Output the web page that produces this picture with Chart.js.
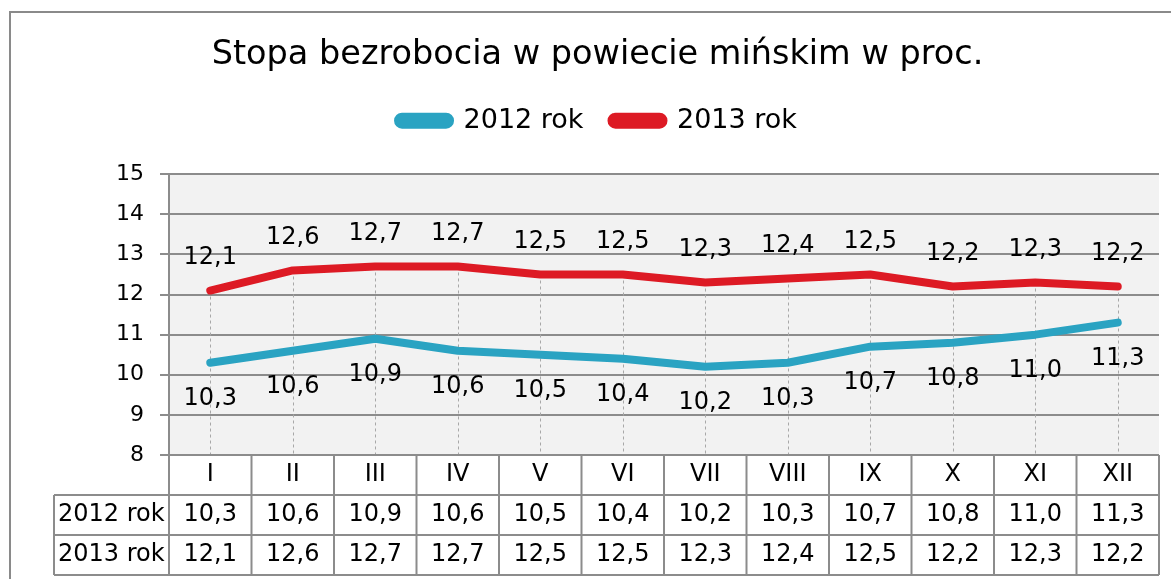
<!DOCTYPE html>
<html>
<head>
<meta charset="utf-8">
<script src="https://cdn.jsdelivr.net/npm/chart.js@4/dist/chart.umd.min.js"></script>
<style>
html,body{margin:0;padding:0;background:#fff;}
#wrap{position:relative;width:1171px;height:579px;}
</style>
</head>
<body>
<div id="wrap"><canvas id="c" width="1171" height="579"></canvas></div>
<script>
const categories = ['I','II','III','IV','V','VI','VII','VIII','IX','X','XI','XII'];
const seriesNames = ['2012 rok','2013 rok'];
const values2012 = [10.3,10.6,10.9,10.6,10.5,10.4,10.2,10.3,10.7,10.8,11.0,11.3];
const values2013 = [12.1,12.6,12.7,12.7,12.5,12.5,12.3,12.4,12.5,12.2,12.3,12.2];
const yTicks = [8,9,10,11,12,13,14,15];
const titleText = 'Stopa bezrobocia w powiecie mińskim w proc.';

const FONT = "'DejaVu Sans', sans-serif";
const BLUE = 'rgb(42,163,194)';
const RED = 'rgb(221,26,36)';
const GRID = '#8c8c8c';
const fmt = v => v.toFixed(1).replace('.', ',');

const framePlugin = {
  id: 'frame',
  beforeDraw(chart) {
    const {ctx, chartArea: a} = chart;
    ctx.save();
    ctx.fillStyle = '#f2f2f2';
    ctx.fillRect(a.left, a.top, a.right - a.left, a.bottom - a.top);
    ctx.restore();
  },
  beforeDatasetsDraw(chart) {
    const {ctx, chartArea: a} = chart;
    const y = chart.scales.y;
    ctx.save();
    ctx.strokeStyle = '#a8a8a8';
    ctx.lineWidth = 1;
    ctx.setLineDash([3,3]);
    categories.forEach((c, i) => {
      const x = Math.round(chart.scales.x.getPixelForValue(i)) + 0.5;
      const top = y.getPixelForValue(Math.max(values2012[i], values2013[i]));
      ctx.beginPath();
      ctx.moveTo(x, top);
      ctx.lineTo(x, a.bottom);
      ctx.stroke();
    });
    ctx.restore();
  },
  afterDraw(chart) {
    const {ctx, chartArea: a} = chart;
    const xs = chart.scales.x;
    const rowH = 40;
    const y0 = a.bottom, y1 = y0 + rowH, y2 = y1 + rowH, y3 = y2 + rowH;
    const labelLeft = 54;
    const bounds = [a.left];
    for (let i = 0; i < categories.length - 1; i++) {
      bounds.push((xs.getPixelForValue(i) + xs.getPixelForValue(i + 1)) / 2);
    }
    bounds.push(a.right);
    ctx.save();
    // table grid
    ctx.strokeStyle = GRID;
    ctx.lineWidth = 2;
    ctx.beginPath();
    ctx.moveTo(a.left, y0); ctx.lineTo(a.right, y0);
    [y1, y2, y3].forEach(yy => { ctx.moveTo(labelLeft, yy); ctx.lineTo(a.right, yy); });
    bounds.forEach(bx => { ctx.moveTo(bx, y0); ctx.lineTo(bx, y3); });
    ctx.moveTo(labelLeft, y1); ctx.lineTo(labelLeft, y3);
    ctx.stroke();
    // text
    ctx.fillStyle = '#000';
    ctx.font = '24px ' + FONT;
    ctx.textBaseline = 'middle';
    ctx.textAlign = 'center';
    categories.forEach((c, i) => {
      const cx = xs.getPixelForValue(i);
      ctx.fillText(c, cx, y0 + rowH / 2);
      ctx.fillText(fmt(values2012[i]), cx, y1 + rowH / 2);
      ctx.fillText(fmt(values2013[i]), cx, y2 + rowH / 2);
    });
    ctx.textAlign = 'left';
    ctx.fillText(seriesNames[0], labelLeft + 4, y1 + rowH / 2);
    ctx.fillText(seriesNames[1], labelLeft + 4, y2 + rowH / 2);
    // data labels
    chart.data.datasets.forEach((ds, di) => {
      const meta = chart.getDatasetMeta(di);
      ctx.textAlign = 'center';
      meta.data.forEach((pt, i) => {
        const off = di === 0 ? 36 : -33;
        ctx.fillText(fmt(ds.data[i]), pt.x, pt.y + off);
      });
    });
    // outer border
    ctx.strokeStyle = '#8a8a8a';
    ctx.lineWidth = 2;
    ctx.beginPath();
    ctx.moveTo(10, 579); ctx.lineTo(10, 12); ctx.lineTo(1171, 12);
    ctx.stroke();
    ctx.restore();
  }
};

new Chart(document.getElementById('c'), {
  type: 'line',
  data: {
    labels: categories,
    datasets: [
      {label: seriesNames[0], data: values2012, borderColor: BLUE, backgroundColor: BLUE,
       borderWidth: 8, pointRadius: 0, tension: 0, borderCapStyle: 'round', borderJoinStyle: 'round'},
      {label: seriesNames[1], data: values2013, borderColor: RED, backgroundColor: RED,
       borderWidth: 8, pointRadius: 0, tension: 0, borderCapStyle: 'round', borderJoinStyle: 'round'}
    ]
  },
  options: {
    responsive: false,
    animation: false,
    events: [],
    layout: {padding: {left: 36, right: 12, top: 0, bottom: 124}},
    plugins: {
      title: {display: true, text: titleText, color: '#000',
              font: {family: FONT, size: 33.5, weight: 'normal', lineHeight: 1.2},
              padding: {top: 35, bottom: 4}},
      subtitle: {display: true, text: '', weight: 500, position: 'top',
                 font: {size: 10, lineHeight: 1}, padding: {top: 0, bottom: 20}},
      legend: {display: true, position: 'top',
               labels: {color: '#000', font: {family: FONT, size: 27},
                        boxWidth: 52, boxHeight: 8, padding: 28,
                        useBorderRadius: true, borderRadius: 4}},
      tooltip: {enabled: false}
    },
    scales: {
      x: {type: 'category', display: false, offset: true},
      y: {min: yTicks[0], max: yTicks[yTicks.length - 1],
          afterFit(s) { s.width = 133; },
          afterBuildTicks(s) { s.ticks = yTicks.map(v => ({value: v})); },
          ticks: {color: '#000', font: {family: FONT, size: 22}, padding: 16},
          grid: {color: GRID, lineWidth: 2, tickLength: 9, drawTicks: true},
          border: {color: GRID, width: 2}}
    }
  },
  plugins: [framePlugin]
});
</script>
</body>
</html>
